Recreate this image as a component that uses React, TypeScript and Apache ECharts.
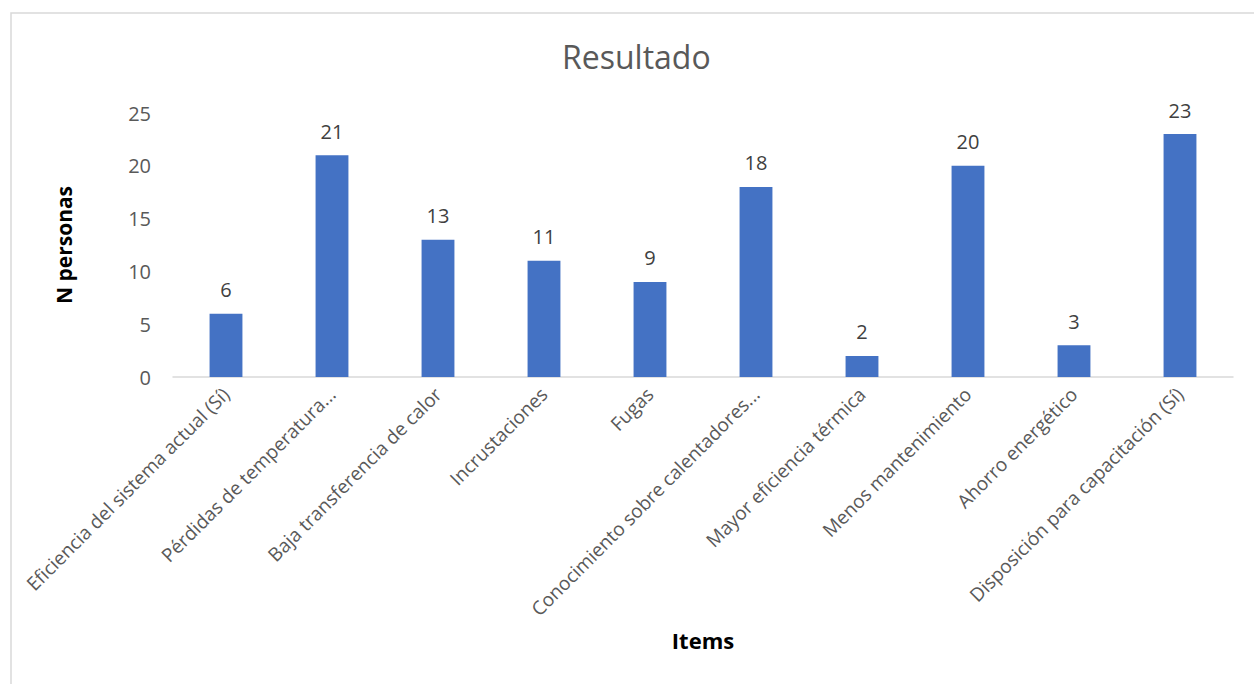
import React, { useEffect, useRef } from "react";
import * as echarts from "echarts";

const categories = [
  "Eficiencia del sistema actual (Sí)",
  "Pérdidas de temperatura...",
  "Baja transferencia de calor",
  "Incrustaciones",
  "Fugas",
  "Conocimiento sobre calentadores...",
  "Mayor eficiencia térmica",
  "Menos mantenimiento",
  "Ahorro energético",
  "Disposición para capacitación (Sí)",
];
const values = [6, 21, 13, 11, 9, 18, 2, 20, 3, 23];
const yTicks = { min: 0, max: 25, interval: 5 };

const FONT = "'Open Sans', 'Noto Sans', sans-serif";

export default function App() {
  const ref = useRef<HTMLDivElement>(null);
  useEffect(() => {
    if (!ref.current) return;
    const chart = echarts.init(ref.current, null, { renderer: "svg" });
    chart.setOption({
      animation: false,
      backgroundColor: "#ffffff",
      textStyle: { fontFamily: FONT },
      title: {
        text: "Resultado",
        left: 557,
        top: 35,
        textStyle: { fontFamily: FONT, fontSize: 32, fontWeight: "normal", color: "#595959" },
      },
      graphic: [
        {
          type: "rect",
          shape: { x: 11, y: 13, width: 1300, height: 720 },
          style: { fill: "none", stroke: "#d9d9d9", lineWidth: 1.5 },
          silent: true,
          z: -1,
        },
      ],
      grid: { left: 173, right: 21, top: 113, bottom: 307, containLabel: false },
      xAxis: {
        type: "category",
        data: categories,
        name: "Items",
        nameLocation: "middle",
        nameGap: 252,
        nameTextStyle: { fontFamily: FONT, fontSize: 22, fontWeight: "bold", color: "#000000" },
        axisLine: { show: true, lineStyle: { color: "#d9d9d9", width: 1.5 } },
        axisTick: { show: false },
        axisLabel: {
          rotate: 45,
          interval: 0,
          margin: 14,
          fontFamily: FONT,
          fontSize: 19,
          color: "#595959",
        },
      },
      yAxis: {
        type: "value",
        min: yTicks.min,
        max: yTicks.max,
        interval: yTicks.interval,
        name: "N personas",
        nameLocation: "middle",
        nameGap: 99,
        nameTextStyle: { fontFamily: FONT, fontSize: 21, fontWeight: "bold", color: "#000000" },
        axisLine: { show: false },
        axisTick: { show: false },
        splitLine: { show: false },
        axisLabel: { margin: 22, fontFamily: FONT, fontSize: 20, color: "#595959" },
      },
      series: [
        {
          type: "bar",
          data: values,
          barWidth: "31%",
          itemStyle: { color: "#4472c4" },
          label: {
            show: true,
            position: "top",
            distance: 14,
            fontFamily: FONT,
            fontSize: 20,
            color: "#404040",
          },
        },
      ],
    });
    return () => chart.dispose();
  }, []);
  return (
    <div
      ref={ref}
      style={{ position: "fixed", left: 0, top: 0, width: 1254, height: 684 }}
    />
  );
}
